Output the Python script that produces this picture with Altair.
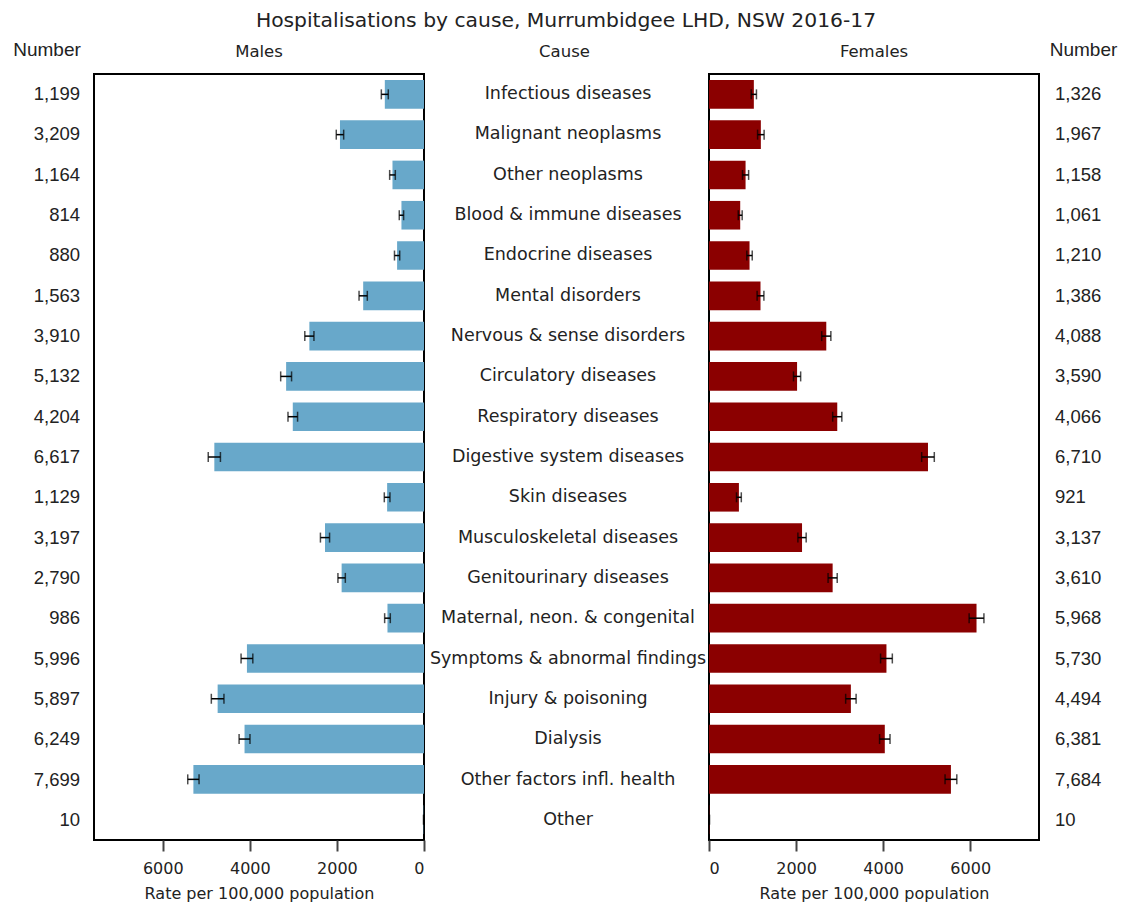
import altair as alt
import pandas as pd

causes = [
    "Infectious diseases", "Malignant neoplasms", "Other neoplasms",
    "Blood & immune diseases", "Endocrine diseases", "Mental disorders",
    "Nervous & sense disorders", "Circulatory diseases", "Respiratory diseases",
    "Digestive system diseases", "Skin diseases", "Musculoskeletal diseases",
    "Genitourinary diseases", "Maternal, neon. & congenital",
    "Symptoms & abnormal findings", "Injury & poisoning", "Dialysis",
    "Other factors infl. health", "Other",
]
male_n = [1199, 3209, 1164, 814, 880, 1563, 3910, 5132, 4204, 6617,
          1129, 3197, 2790, 986, 5996, 5897, 6249, 7699, 10]
female_n = [1326, 1967, 1158, 1061, 1210, 1386, 4088, 3590, 4066, 6710,
            921, 3137, 3610, 5968, 5730, 4494, 6381, 7684, 10]
male_rate = [900, 1930, 724, 518, 618, 1397, 2633, 3167, 3014, 4816,
             847, 2274, 1892, 839, 4067, 4740, 4122, 5297, 7]
male_ci = [80, 85, 65, 50, 60, 95, 105, 125, 110, 140,
           65, 105, 85, 65, 135, 145, 125, 130, 5]
female_rate = [1030, 1191, 840, 717, 931, 1183, 2694, 2023, 2946, 5030,
               687, 2137, 2840, 6145, 4076, 3259, 4038, 5557, 7]
female_ci = [60, 75, 70, 45, 62, 78, 105, 82, 105, 145,
             55, 95, 105, 170, 135, 120, 120, 135, 5]

df = pd.DataFrame({
    "cause": causes,
    "male_n": [f"{v:,}" for v in male_n],
    "female_n": [f"{v:,}" for v in female_n],
    "male_rate": male_rate,
    "male_lo": [r - c for r, c in zip(male_rate, male_ci)],
    "male_hi": [r + c for r, c in zip(male_rate, male_ci)],
    "female_rate": female_rate,
    "female_lo": [r - c for r, c in zip(female_rate, female_ci)],
    "female_hi": [r + c for r, c in zip(female_rate, female_ci)],
})

H = 766
TXT = "#222222"
FONT = "DejaVu Sans"
NFONT = "Liberation Sans"
ysc = alt.Scale(domain=causes, paddingInner=0.29, paddingOuter=0.15)
y = alt.Y("cause:N", scale=ysc, axis=None)
noframe = alt.ViewBackground(stroke=None)
frame = alt.ViewBackground(stroke="black", strokeWidth=2)


def head(text, dx=0):
    return alt.TitleParams(text, font=FONT, fontSize=16.5, fontWeight="normal",
                           color=TXT, anchor="middle", offset=14, dx=dx)


def num_head(text, dx=0):
    return alt.TitleParams(text, font=NFONT, fontSize=19, fontWeight="normal",
                           color=TXT, anchor="middle", offset=14, dx=dx)


base = alt.Chart(df)

left = base.mark_text(align="right", baseline="middle", font=NFONT,
                      fontSize=18.5, color=TXT).encode(
    y=y, x=alt.value(80), text="male_n:N"
).properties(width=94, height=H, title=num_head("Number"), view=noframe)

right = base.mark_text(align="left", baseline="middle", font=NFONT,
                       fontSize=18.5, color=TXT).encode(
    y=y, x=alt.value(16), text="female_n:N"
).properties(width=83, height=H, title=num_head("Number", dx=3), view=noframe)

middle = base.mark_text(align="center", baseline="middle", font=FONT,
                        fontSize=17.5, color=TXT).encode(
    y=y, x=alt.value(144), text="cause:N"
).properties(width=285, height=H, title=head("Cause", dx=-2), view=noframe)


def axis():
    return alt.Axis(values=[0, 2000, 4000, 6000], format="d",
                    title="Rate per 100,000 population", grid=False,
                    domain=False, tickSize=11, tickColor="#444444",
                    tickWidth=2, labelFont=FONT, labelFontSize=16,
                    labelColor=TXT, labelPadding=9, titleFont=FONT,
                    titleFontSize=16, titleFontWeight="normal",
                    titleColor=TXT, titlePadding=9)


def panel(prefix, color, reverse, title):
    xs = alt.Scale(domain=[0, 7580], reverse=reverse, nice=False)
    bars = base.mark_bar(color=color).encode(
        x=alt.X(f"{prefix}_rate:Q", scale=xs, axis=axis()), y=y)
    err = base.mark_rule(color="black", strokeWidth=1.5).encode(
        x=alt.X(f"{prefix}_lo:Q", scale=xs), x2=f"{prefix}_hi:Q", y=y)
    cap_lo = base.mark_tick(color="black", thickness=1.5, size=10).encode(
        x=alt.X(f"{prefix}_lo:Q", scale=xs), y=y)
    cap_hi = base.mark_tick(color="black", thickness=1.5, size=10).encode(
        x=alt.X(f"{prefix}_hi:Q", scale=xs), y=y)
    return alt.layer(bars, err, cap_lo, cap_hi).properties(
        width=330, height=H, title=head(title), view=frame)


males = panel("male", "#68a8ca", True, "Males")
females = panel("female", "#8b0000", False, "Females")

chart = alt.hconcat(left, males, middle, females, right, spacing=0,
                    bounds="flush").properties(
    title=alt.TitleParams(
        "Hospitalisations by cause, Murrumbidgee LHD, NSW 2016-17",
        font=FONT, fontSize=20.3, fontWeight="normal", color=TXT,
        anchor="middle", offset=10, dx=5),
    padding={"left": 0, "top": 10, "right": 0, "bottom": 0},
    background="white",
).configure_tick(bandSize=10)

chart.save("out.html", embed_options={"renderer": "svg", "actions": False})
